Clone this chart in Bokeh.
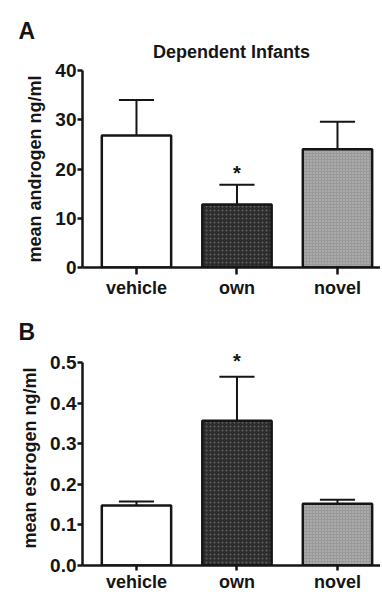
from bokeh.plotting import figure
from bokeh.layouts import column
from bokeh.models import Range1d, FixedTicker, Title, ColumnDataSource, NumeralTickFormatter
from bokeh.embed import file_html
from bokeh.resources import INLINE
from bokeh.core.properties import value

categories = ["vehicle", "own", "novel"]
androgen_mean = [26.8, 12.8, 24.0]
androgen_sem = [7.2, 4.0, 5.6]
estrogen_mean = [0.148, 0.357, 0.152]
estrogen_sem = [0.010, 0.108, 0.010]
significant = [False, True, False]
androgen_ticks = [0, 10, 20, 30, 40]
estrogen_ticks = [0.0, 0.1, 0.2, 0.3, 0.4, 0.5]

FONT = "Liberation Sans"
INK = "#151515"
fills = ["#ffffff", "#2c2c2c", "#999999"]
hatches = [" ", "dot", "dot"]
hatch_colors = ["#ffffff", "#626262", "#c4c4c4"]
hatch_scales = [4, 4, 3]


def panel(means, sems, ticks, ymax, height, top, bottom, ylabel, letter,
          star_gap, letter_standoff, title=None, fmt="0", tick_out=7,
          label_standoff=3):
    xs = list(range(len(categories)))
    p = figure(width=380, height=height,
               x_range=Range1d(-0.537, 2.428), y_range=Range1d(0, ymax),
               output_backend="svg", toolbar_location=None,
               min_border_left=82, min_border_right=0,
               min_border_top=top, min_border_bottom=bottom)
    p.outline_line_color = None
    p.xgrid.visible = False
    p.ygrid.visible = False
    p.background_fill_color = "white"
    p.border_fill_color = "white"

    tops = [m + s for m, s in zip(means, sems)]
    eb = ColumnDataSource(dict(x=xs, y0=means, y1=tops,
                               xl=[x - 0.175 for x in xs],
                               xr=[x + 0.175 for x in xs]))
    p.segment(x0="x", y0="y0", x1="x", y1="y1", source=eb,
              line_color=INK, line_width=2)
    p.segment(x0="xl", y0="y1", x1="xr", y1="y1", source=eb,
              line_color=INK, line_width=2)

    bars = ColumnDataSource(dict(x=xs, top=means, fill=fills, hatch=hatches,
                                 hc=hatch_colors, hs=hatch_scales))
    p.vbar(x="x", top="top", width=0.69, bottom=0, source=bars,
           fill_color="fill", hatch_pattern="hatch", hatch_color="hc",
           hatch_scale="hs", hatch_weight=1.5,
           line_color=INK, line_width=2.5)

    sx = [x for x, s in zip(xs, significant) if s]
    sy = [t + star_gap for t, s in zip(tops, significant) if s]
    p.text(x=sx, y=sy, text=["*"] * len(sx), text_align="center",
           text_baseline="middle", text_font=value(FONT),
           text_font_style="bold", text_font_size="20px", text_color=INK)

    for ax in (p.xaxis[0], p.yaxis[0]):
        ax.axis_line_width = 2.5
        ax.axis_line_color = INK
        ax.major_tick_line_width = 2.5
        ax.major_tick_line_color = INK
        ax.major_tick_in = 0
        ax.minor_tick_line_color = None
        ax.major_label_text_font = FONT
        ax.major_label_text_font_style = "bold"
        ax.major_label_text_color = INK

    p.xaxis.ticker = FixedTicker(ticks=xs)
    p.xaxis.major_label_overrides = {x: c for x, c in zip(xs, categories)}
    p.xaxis.major_label_text_font_size = "18px"
    p.xaxis.major_tick_out = tick_out
    p.xaxis.major_label_standoff = label_standoff

    p.yaxis.ticker = FixedTicker(ticks=ticks)
    p.yaxis.formatter = NumeralTickFormatter(format=fmt)
    p.yaxis.bounds = (ticks[0], ticks[-1])
    p.yaxis.major_label_text_font_size = "19px"
    p.yaxis.major_tick_out = 5
    p.yaxis.major_label_standoff = 1
    p.yaxis.axis_label = ylabel
    p.yaxis.axis_label_text_font = FONT
    p.yaxis.axis_label_text_font_style = "bold"
    p.yaxis.axis_label_text_font_size = "18px"
    p.yaxis.axis_label_text_color = INK
    p.yaxis.axis_label_standoff = 7

    p.title.text = letter
    p.title.align = "left"
    p.title.offset = -64
    p.title.text_font = FONT
    p.title.text_font_style = "bold"
    p.title.text_font_size = "23px"
    p.title.text_color = INK
    p.title.standoff = letter_standoff

    if title:
        p.add_layout(Title(text=title, align="center", offset=8,
                           text_font=FONT, text_font_style="bold",
                           text_font_size="18px", text_color=INK,
                           standoff=17), "above")
    return p


pa = panel(androgen_mean, androgen_sem, androgen_ticks, 40, 300, 70, 30,
           "mean androgen ng/ml", "A", 2.4, -24, title="Dependent Infants")
pb = panel(estrogen_mean, estrogen_sem, estrogen_ticks, 0.53, 294, 50, 28,
           "mean estrogen ng/ml", "B", 0.04, 12, fmt="0.0", tick_out=5,
           label_standoff=1)

layout = column(pa, pb, spacing=0)
open("out.html", "w").write(file_html(layout, INLINE))
